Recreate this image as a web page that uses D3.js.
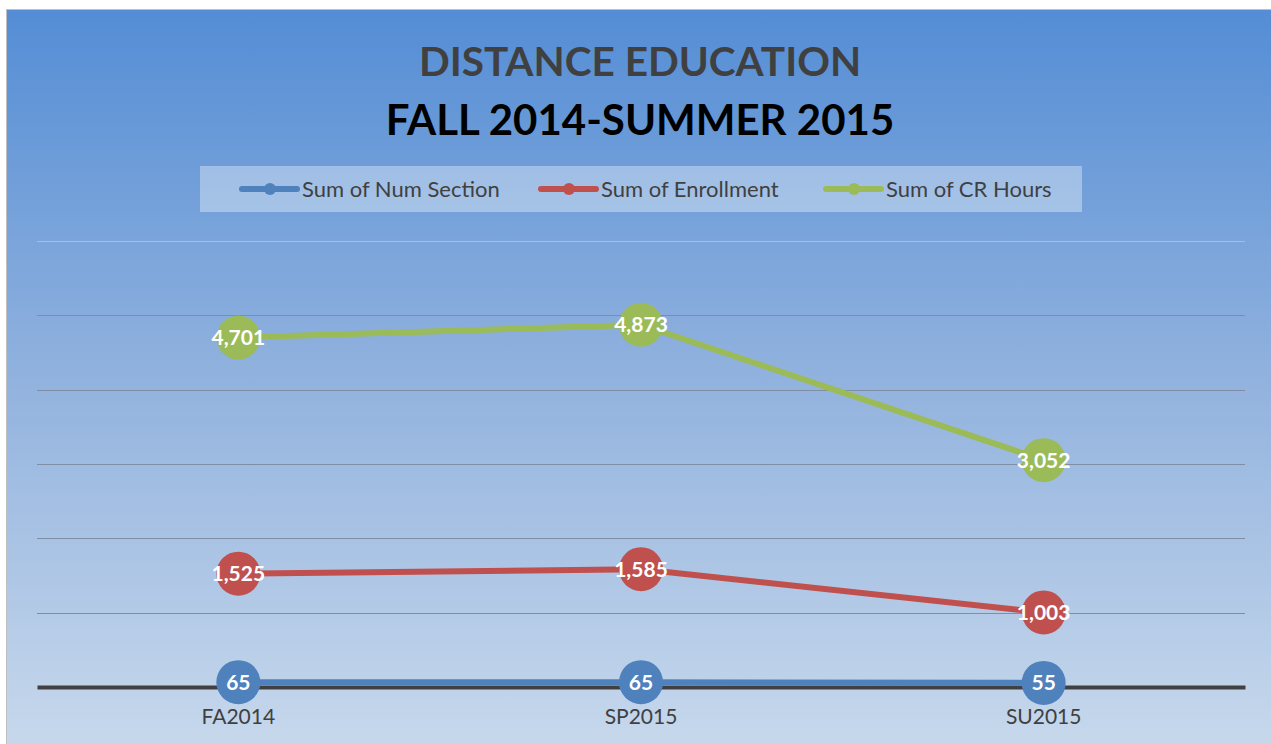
<!DOCTYPE html>
<html>
<head>
<meta charset="utf-8">
<script src="https://cdn.jsdelivr.net/npm/d3@7"></script>
<style>
  body { margin: 0; background: #fff; }
  svg { display: block; font-family: Lato, "Open Sans", sans-serif; }
</style>
</head>
<body>
<script>
// chart data
var terms = ["FA2014", "SP2015", "SU2015"];
var numSection = [65, 65, 55];
var enrollment = [1525, 1585, 1003];
var crHours = [4701, 4873, 3052];
var seriesNames = ["Sum of Num Section", "Sum of Enrollment", "Sum of CR Hours"];
var seriesColors = ["#4f81bd", "#c0504d", "#9bbb59"];
var yTicks = [0, 1000, 2000, 3000, 4000, 5000, 6000];

var width = 1271, height = 744;

var svg = d3.select("body").append("svg")
    .attr("width", width)
    .attr("height", height);

// background gradient
var grad = svg.append("defs").append("linearGradient")
    .attr("id", "bg")
    .attr("x1", 0).attr("y1", 0).attr("x2", 0).attr("y2", 1);
grad.append("stop").attr("offset", "0%").attr("stop-color", "#548dd5");
grad.append("stop").attr("offset", "50%").attr("stop-color", "#91b2de");
grad.append("stop").attr("offset", "100%").attr("stop-color", "#c7d8ec");

svg.append("rect")
    .attr("x", 6.5).attr("y", 9.5)
    .attr("width", width - 6).attr("height", height - 9)
    .attr("fill", "url(#bg)")
    .attr("stroke", "#bfbfbf");

// titles
svg.append("text")
    .attr("x", 640).attr("y", 76)
    .attr("text-anchor", "middle")
    .attr("font-size", 40.5).attr("font-weight", "bold")
    .attr("fill", "#404040")
    .text("DISTANCE EDUCATION");
svg.append("text")
    .attr("x", 640).attr("y", 135)
    .attr("text-anchor", "middle")
    .attr("font-size", 42).attr("font-weight", "bold")
    .attr("fill", "#000")
    .text("FALL 2014-SUMMER 2015");

// legend
svg.append("rect")
    .attr("x", 200).attr("y", 166)
    .attr("width", 882).attr("height", 46)
    .attr("fill", "#ffffff").attr("fill-opacity", 0.35);

var legendX = [242, 541, 826];
var leg = svg.selectAll(".legend")
    .data(seriesNames)
    .enter().append("g")
    .attr("class", "legend")
    .attr("transform", function(d, i) { return "translate(" + legendX[i] + ",189)"; });
leg.append("line")
    .attr("x1", 0).attr("x2", 55)
    .attr("stroke", function(d, i) { return seriesColors[i]; })
    .attr("stroke-width", 6)
    .attr("stroke-linecap", "round");
leg.append("circle")
    .attr("cx", 28).attr("r", 6)
    .attr("fill", function(d, i) { return seriesColors[i]; });
leg.append("text")
    .attr("x", 60).attr("y", 8)
    .attr("font-size", 22)
    .attr("fill", "#404040")
    .text(function(d) { return d; });

// scales
var x = d3.scaleBand().domain(terms).range([37, 1245]);
var y = d3.scaleLinear().domain([0, 6000]).range([687, 241]);

// gridlines
svg.selectAll(".grid")
    .data(yTicks.filter(function(t) { return t > 0; }))
    .enter().append("line")
    .attr("class", "grid")
    .attr("x1", 37).attr("x2", 1245)
    .attr("y1", function(d) { return Math.round(y(d)) + 0.5; })
    .attr("y2", function(d) { return Math.round(y(d)) + 0.5; })
    .attr("stroke", function(d) { return d === 6000 ? "#a9bdd8" : "#7f8ea4"; })
    .attr("stroke-width", 1.2);

// x axis
var xAxis = svg.append("g")
    .attr("transform", "translate(0," + y(0) + ")")
    .call(d3.axisBottom(x).tickSize(0).tickPadding(22));
xAxis.select(".domain")
    .attr("stroke", "#404040").attr("stroke-width", 4);
xAxis.selectAll("text")
    .attr("font-family", "Lato, 'Open Sans', sans-serif")
    .attr("font-size", 21)
    .attr("fill", "#404040");

// series
var series = [numSection, enrollment, crHours].map(function(vals, i) {
    return { name: seriesNames[i], color: seriesColors[i],
             values: vals.map(function(v, j) { return { term: terms[j], value: v }; }) };
});

var line = d3.line()
    .x(function(d) { return x(d.term) + x.bandwidth() / 2; })
    .y(function(d) { return y(d.value); });

var sg = svg.selectAll(".series")
    .data(series)
    .enter().append("g")
    .attr("class", "series");

sg.append("path")
    .attr("d", function(d) { return line(d.values); })
    .attr("fill", "none")
    .attr("stroke", function(d) { return d.color; })
    .attr("stroke-width", 6);

sg.each(function(s) {
    var g = d3.select(this);
    g.selectAll("circle")
        .data(s.values)
        .enter().append("circle")
        .attr("cx", function(d) { return x(d.term) + x.bandwidth() / 2; })
        .attr("cy", function(d) { return y(d.value); })
        .attr("r", 22)
        .attr("fill", s.color);
    g.selectAll("text")
        .data(s.values)
        .enter().append("text")
        .attr("x", function(d) { return x(d.term) + x.bandwidth() / 2; })
        .attr("y", function(d) { return y(d.value) + 7.5; })
        .attr("text-anchor", "middle")
        .attr("font-size", 21).attr("font-weight", "bold")
        .attr("fill", "#fff")
        .text(function(d) { return d3.format(",")(d.value); });
});
</script>
</body>
</html>
